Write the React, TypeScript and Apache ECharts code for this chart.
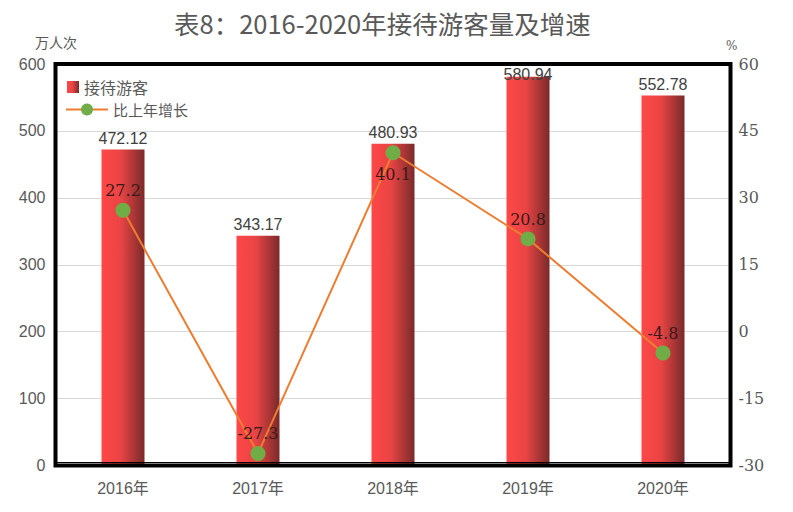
import React, { useEffect, useRef } from "react";
import * as echarts from "echarts";

const categories = ["2016年", "2017年", "2018年", "2019年", "2020年"];
const visitors = [472.12, 343.17, 480.93, 580.94, 552.78];
const growth = [27.2, -27.3, 40.1, 20.8, -4.8];
const leftTicks = { min: 0, max: 600, interval: 100 };
const rightTicks = { min: -30, max: 60, interval: 15 };

const SANS = "'Liberation Sans', 'Noto Sans CJK SC', sans-serif";
const SERIF = "'DejaVu Serif', serif";
const CJK = "'Noto Sans CJK SC', sans-serif";

const GL = 55.5;
const GR = 62.5;
const GT = 64;
const GB = 46.5;
const W = 793;
const H = 512;

export default function App() {
  const ref = useRef<HTMLDivElement>(null);
  useEffect(() => {
    const chart = echarts.init(ref.current!, null, { renderer: "svg" });
    const barGrad = new echarts.graphic.LinearGradient(0, 0, 1, 0, [
      { offset: 0, color: "#FF4747" },
      { offset: 0.45, color: "#E94444" },
      { offset: 1, color: "#7A2A2B" },
    ]);
    chart.setOption({
      animation: false,
      backgroundColor: "#ffffff",
      title: {
        text: "表8：2016-2020年接待游客量及增速",
        left: 169,
        top: 5,
        textStyle: { fontFamily: CJK, fontSize: 25.5, fontWeight: "normal", color: "#595959" },
      },
      graphic: [
        { type: "text", left: 35, top: 35, style: { text: "万人次", font: `14px ${CJK}`, fill: "#595959" } },
        { type: "text", left: 726, top: 40, style: { text: "%", font: `12px ${SERIF}`, fill: "#595959" } },
        {
          type: "rect",
          z: 100,
          silent: true,
          shape: { x: GL, y: GT, width: W - GL - GR, height: H - GT - GB },
          style: { fill: "none", stroke: "#000", lineWidth: 4 },
        },
        {
          type: "line",
          z: 100,
          silent: true,
          shape: { x1: GL, y1: H - GB - 3, x2: W - GR, y2: H - GB - 3 },
          style: { stroke: "#000", lineWidth: 1 },
        },
      ],
      legend: [
        {
          data: [{ name: "接待游客", icon: "rect" }],
          left: 62,
          top: 74,
          itemWidth: 12,
          itemHeight: 12,
          itemGap: 6,
          textStyle: { fontFamily: CJK, fontSize: 16, color: "#595959" },
        },
        {
          data: ["比上年增长"],
          left: 60,
          top: 97,
          itemWidth: 42,
          itemHeight: 15,
          itemGap: 6,
          textStyle: { fontFamily: CJK, fontSize: 15, color: "#595959" },
        },
      ],
      grid: {
        left: GL,
        right: GR,
        top: GT,
        bottom: GB,
        show: false,
        containLabel: false,
      },
      xAxis: [
        {
          type: "category",
          data: categories,
          axisTick: { show: false },
          axisLine: { show: false },
          axisLabel: { fontFamily: SANS, fontSize: 16, color: "#595959", margin: 15 },
        },
      ],
      yAxis: [
        {
          type: "value",
          min: leftTicks.min,
          max: leftTicks.max,
          interval: leftTicks.interval,
          axisLine: { show: false },
          axisTick: { show: false },
          splitLine: { lineStyle: { color: "#D9D9D9", width: 1 } },
          axisLabel: { fontFamily: SANS, fontSize: 16, color: "#595959", margin: 10 },
        },
        {
          type: "value",
          min: rightTicks.min,
          max: rightTicks.max,
          interval: rightTicks.interval,
          axisLine: { show: false },
          axisTick: { show: false },
          splitLine: { show: false },
          axisLabel: { fontFamily: SERIF, fontSize: 16, color: "#595959", margin: 8 },
        },
      ],
      series: [
        {
          name: "接待游客",
          type: "bar",
          yAxisIndex: 0,
          barWidth: 43,
          data: visitors.map((v, i) => ({
            value: v,
            label: i === 3 ? { distance: -6 } : undefined,
          })),
          itemStyle: { color: barGrad },
          label: {
            show: true,
            position: "top",
            distance: 3,
            fontFamily: SANS,
            fontSize: 16,
            color: "#404040",
          },
        },
        {
          name: "比上年增长",
          type: "line",
          yAxisIndex: 1,
          data: growth.map((v, i) => ({
            value: v,
            label: i === 2 ? { position: "bottom", distance: 6 } : undefined,
          })),
          symbol: "circle",
          symbolSize: 15,
          lineStyle: { color: "#ED7D31", width: 2 },
          itemStyle: { color: "#70AD47" },
          label: {
            show: true,
            position: "top",
            distance: 4,
            fontFamily: SERIF,
            fontSize: 16,
            color: "#3A1A1A",
          },
          z: 5,
        },
      ],
    });
    return () => chart.dispose();
  }, []);
  return (
    <div
      ref={ref}
      style={{ position: "fixed", left: 0, top: 0, width: W, height: H }}
    />
  );
}
